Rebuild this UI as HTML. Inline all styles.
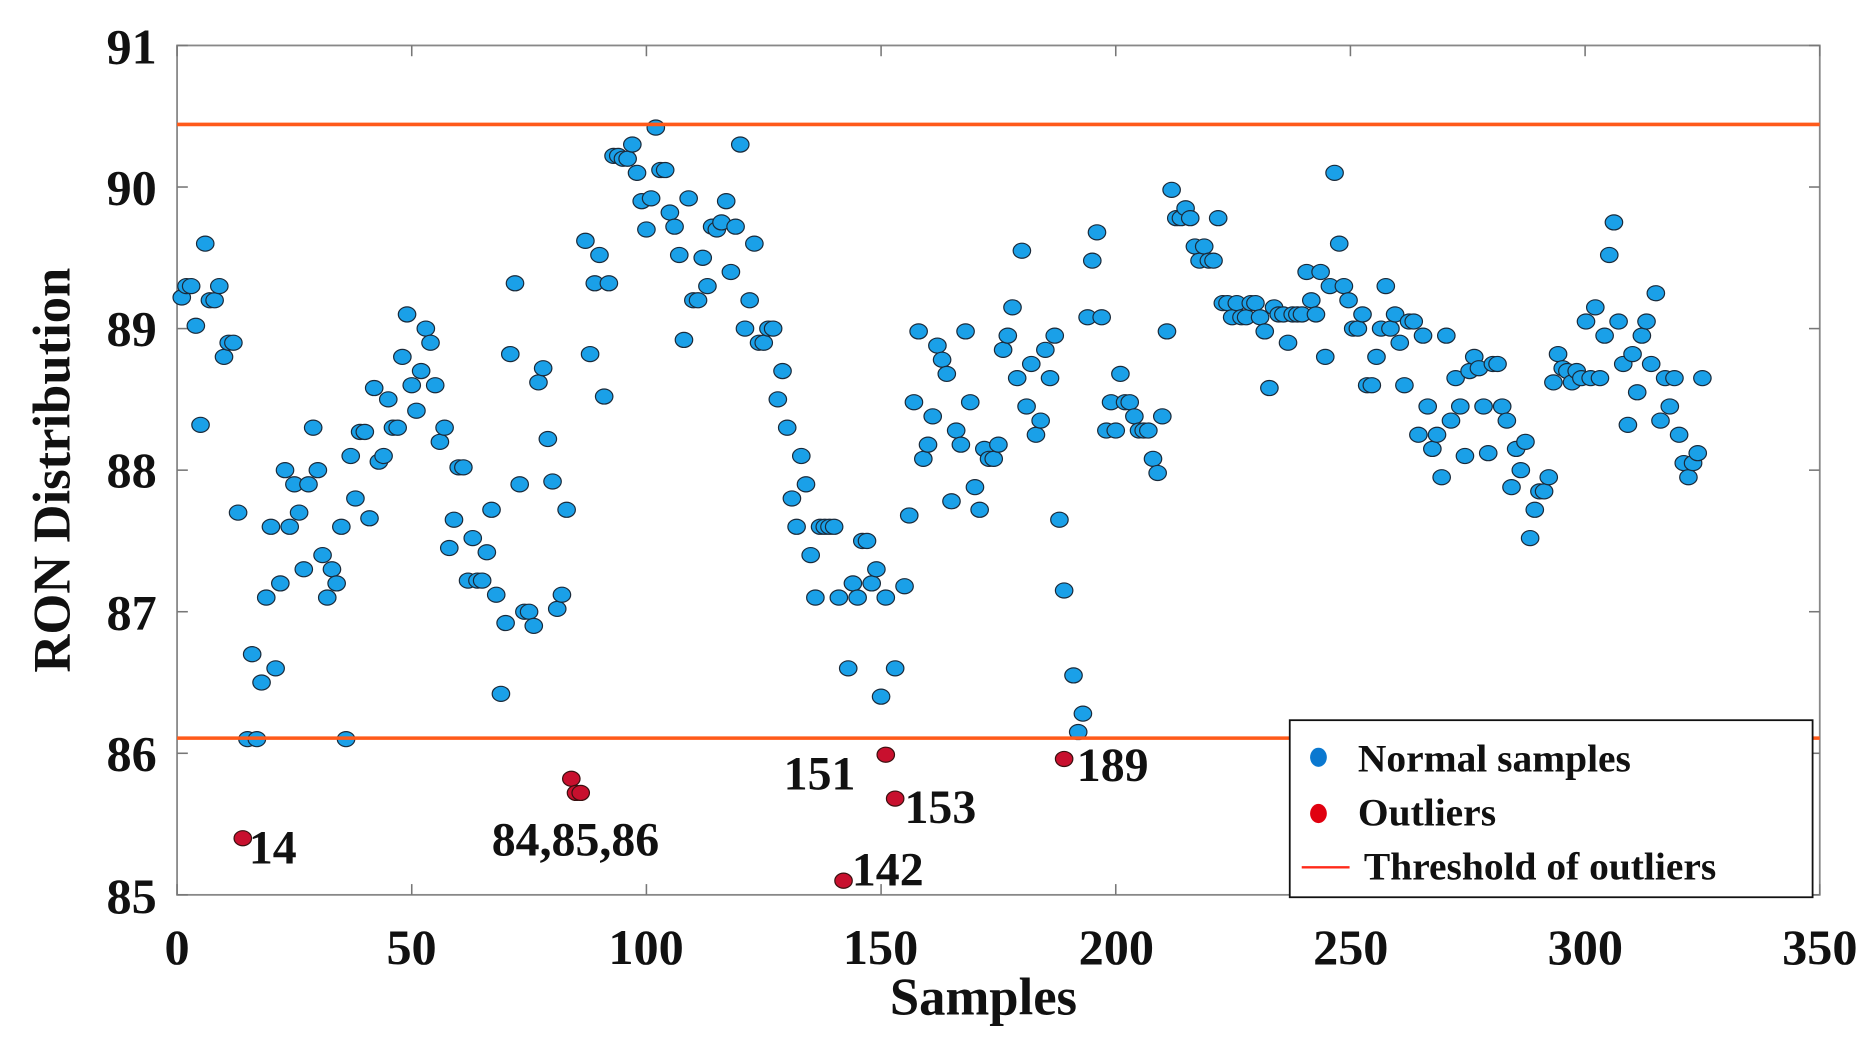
<!DOCTYPE html>
<html><head><meta charset="utf-8"><style>
html,body{margin:0;padding:0;background:#fff;}
svg{display:block;}
text{font-family:"Liberation Serif",serif;font-weight:bold;fill:#111;}
</style></head><body>
<svg id="s" width="1876" height="1042" viewBox="0 0 1568 871" preserveAspectRatio="none" xmlns="http://www.w3.org/2000/svg">
<rect x="148" y="38" width="1373" height="710" fill="#fff" stroke="#888" stroke-width="1.5"/>
<g id="ticks" stroke="#777" stroke-width="1.3"></g>
<g id="pts"></g>
<line x1="148" x2="1521" y1="104" y2="104" stroke="#ff5a1a" stroke-width="3"/>
<line x1="148" x2="1521" y1="617" y2="617" stroke="#ff5a1a" stroke-width="3"/>
<g font-size="42" text-anchor="end">
<text x="131" y="53">91</text><text x="131" y="171">90</text><text x="131" y="289">89</text>
<text x="131" y="407">88</text><text x="131" y="526">87</text><text x="131" y="644">86</text><text x="131" y="763">85</text>
</g>
<g font-size="42" text-anchor="middle">
<text x="148" y="806">0</text><text x="344" y="806">50</text><text x="540" y="806">100</text>
<text x="736" y="806">150</text><text x="933" y="806">200</text><text x="1129" y="806">250</text>
<text x="1325" y="806">300</text><text x="1521" y="806">350</text>
</g>
<text x="822" y="848" font-size="44" text-anchor="middle">Samples</text>
<text transform="translate(58,393) rotate(-90)" font-size="44" text-anchor="middle">RON Distribution</text>
<g font-size="40">
<text x="208" y="722">14</text><text x="411" y="715">84,85,86</text><text x="655" y="660">151</text>
<text x="756" y="688">153</text><text x="712" y="740">142</text><text x="900" y="653">189</text>
</g>
<rect x="1078" y="602" width="437" height="148" fill="#fff" stroke="#111" stroke-width="1.5"/>
<ellipse cx="1102" cy="633" rx="7" ry="8" fill="#0a78d0"/>
<ellipse cx="1102" cy="680" rx="7" ry="8" fill="#e0000f"/>
<line x1="1088" x2="1128" y1="725" y2="725" stroke="#ff2a1a" stroke-width="2"/>
<g font-size="33">
<text x="1135" y="645">Normal samples</text><text x="1135" y="690">Outliers</text><text x="1140" y="735">Threshold of outliers</text>
</g>
</svg>
<script>
var d=[89.22,89.3,89.3,89.02,88.32,89.6,89.2,89.2,89.3,88.8,88.9,88.9,87.7,null,86.1,86.7,86.1,86.5,87.1,87.6,86.6,87.2,88.0,87.6,87.9,87.7,87.3,87.9,88.3,88.0,87.4,87.1,87.3,87.2,87.6,86.1,88.1,87.8,88.27,88.27,87.66,88.58,88.06,88.1,88.5,88.3,88.3,88.8,89.1,88.6,88.42,88.7,89.0,88.9,88.6,88.2,88.3,87.45,87.65,88.02,88.02,87.22,87.52,87.22,87.22,87.42,87.72,87.12,86.42,86.92,88.82,89.32,87.9,87.0,87.0,86.9,88.62,88.72,88.22,87.92,87.02,87.12,87.72,null,null,null,89.62,88.82,89.32,89.52,88.52,89.32,90.22,90.22,90.2,90.2,90.3,90.1,89.9,89.7,89.92,90.42,90.12,90.12,89.82,89.72,89.52,88.92,89.92,89.2,89.2,89.5,89.3,89.72,89.7,89.75,89.9,89.4,89.72,90.3,89.0,89.2,89.6,88.9,88.9,89.0,89.0,88.5,88.7,88.3,87.8,87.6,88.1,87.9,87.4,87.1,87.6,87.6,87.6,87.6,87.1,null,86.6,87.2,87.1,87.5,87.5,87.2,87.3,86.4,87.1,null,86.6,null,87.18,87.68,88.48,88.98,88.08,88.18,88.38,88.88,88.78,88.68,87.78,88.28,88.18,88.98,88.48,87.88,87.72,88.15,88.08,88.08,88.18,88.85,88.95,89.15,88.65,89.55,88.45,88.75,88.25,88.35,88.85,88.65,88.95,87.65,87.15,null,86.55,86.15,86.28,89.08,89.48,89.68,89.08,88.28,88.48,88.28,88.68,88.48,88.48,88.38,88.28,88.28,88.28,88.08,87.98,88.38,88.98,89.98,89.78,89.78,89.85,89.78,89.58,89.48,89.58,89.48,89.48,89.78,89.18,89.18,89.08,89.18,89.08,89.08,89.18,89.18,89.08,88.98,88.58,89.15,89.1,89.1,88.9,89.1,89.1,89.1,89.4,89.2,89.1,89.4,88.8,89.3,90.1,89.6,89.3,89.2,89.0,89.0,89.1,88.6,88.6,88.8,89.0,89.3,89.0,89.1,88.9,88.6,89.05,89.05,88.25,88.95,88.45,88.15,88.25,87.95,88.95,88.35,88.65,88.45,88.1,88.7,88.8,88.72,88.45,88.12,88.75,88.75,88.45,88.35,87.88,88.15,88.0,88.2,87.52,87.72,87.85,87.85,87.95,88.62,88.82,88.72,88.7,88.62,88.7,88.65,89.05,88.65,89.15,88.65,88.95,89.52,89.75,89.05,88.75,88.32,88.82,88.55,88.95,89.05,88.75,89.25,88.35,88.65,88.45,88.65,88.25,88.05,87.95,88.05,88.12,88.65];
var out={14:85.4,84:85.82,85:85.72,86:85.72,142:85.1,151:85.99,153:85.68,189:85.96};
function X(i){var xx=i; if(i>200) xx=200+(i-200)*0.992; return 148+xx*1373/350;}function Y(v){return 38+(91-v)*710/6;}
var h='';
for(var i=0;i<d.length;i++){if(d[i]!=null)h+='<ellipse cx="'+X(i+1)+'" cy="'+Y(d[i])+'" rx="7.3" ry="6.3" fill="#1aa0e8" stroke="#1a2a3a" stroke-width="1"/>';}
for(var k in out){h+='<ellipse cx="'+X(+k)+'" cy="'+Y(out[k])+'" rx="7.3" ry="6.3" fill="#c8102e" stroke="#3a1010" stroke-width="1"/>';}
document.getElementById('pts').innerHTML=h;
var t='';
for(var v=85;v<=91;v++){var y=Y(v);t+='<line x1="148" x2="157" y1="'+y+'" y2="'+y+'"/><line x1="1512" x2="1521" y1="'+y+'" y2="'+y+'"/>';}
for(var s=0;s<=350;s+=50){var x=148+s*1373/350;t+='<line x1="'+x+'" x2="'+x+'" y1="748" y2="739"/><line x1="'+x+'" x2="'+x+'" y1="38" y2="47"/>';}
document.getElementById('ticks').innerHTML=t;
</script>
</body></html>
